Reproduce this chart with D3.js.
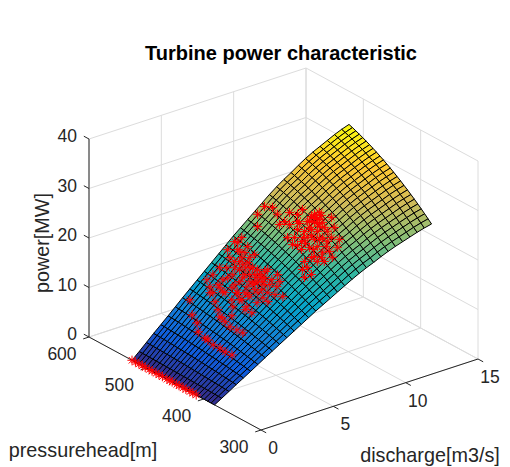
<!DOCTYPE html>
<html><head><meta charset="utf-8">
<script src="https://cdn.jsdelivr.net/npm/d3@7"></script>
<style>html,body{margin:0;padding:0;background:#fff}svg{display:block}text{font-family:"Liberation Sans",Arial,sans-serif;fill:#262626}</style>
</head><body><svg id="c" width="510" height="467"></svg>
<script>
const dischargeTicks=[0,5,10,15], headTicks=[300,400,500,600], powerTicks=[0,10,20,30,40];
const dischargeGrid=[0,0.5,1,1.5,2,2.5,3,3.5,4,4.5,5,5.5,6,6.5,7,7.5,8,8.5,9,9.5,10,10.5,11,11.5,12,12.5,13,13.5,14,14.5,15];
const powerAtTopHead=[0,1.3,2.65,4,5.3,6.6,7.95,9.3,10.6,11.9,13.2,14.5,15.8,17.1,18.4,19.6,20.8,22,23.2,24.4,25.5,26.5,27.4,28.4,29.3,30.1,30.8,31.5,32.2,32.8,33.3];
const headGrid=[525,519,513,507,501,495,489,483,477,471,465,459,453,447,441,435,429,423,417,411,405,399,393,387,381];
const headRatio=[1,.992,.9835,.9745,.965,.955,.9445,.9334,.9218,.9097,.8971,.884,.8704,.8563,.8416,.8264,.8107,.7945,.7778,.7606,.7429,.7246,.7058,.6865,.6668];
const parulaStops=['#352a87','#0f5cdd','#1481d6','#06a4ca','#2eb7a4','#87bf77','#d1bb59','#fec832','#f9fb0e'];
// measured points along the zero-power line
const idleHead=[525,519,513,507,502,495,490,483,478,472,464,459,455,447,443,436,431,424,419,413];
// measured points, mid range
const midDischarge=[3.48,2.94,2.79,2.46,2.46,2.48,2.47,2.59,2.62,2.74,4.51,4.32,4.1,3.91,3.86,3.83,3.96,4.05,4.77,5.39,5.28,5.02,5.53,5.21,3.88,4.36,7.53,7.96,7.31,7.8,6.69,6.7,7.13,7.42,5.9,5.36,5.52,6.09,6.55,6.53,7,6.89,7.08,7.14,6.67,6.85,6.41,6.11,6.06,5.52,5.06,4.62,4.76,4.94,7.32,7.73,7.21,7.01,6.63,6.26,5.8,5.31,5.82,6.26,6.91,6.85,6.43,6.53,5.79,5.49,7.11,7.14,6.87,7.45,6.45,6.16,5.08,7.3,6.94,7.72,5.75,6.33,7.21,7.58,7.03,6.27,6.71,7.03,6.56,5.82,6.81,6.24,6.88,5.78,5.13,5.09,5.02,7.6,6.85,7.39,7.53];
const midHead=[511.8,494.3,481.9,471.6,459.6,455.1,445.7,436.9,428.6,419.7,502.7,489.2,478.4,466.7,460.1,450.7,441.9,433.8,469.2,469.3,457.8,493.2,479.9,447.4,469.4,460.7,535.9,534.4,525.1,520,523.2,514.9,513.4,506.8,520.9,519.2,505.8,502.8,502.4,493,496.3,484.9,480.8,473.6,474,466.2,476,478.8,489.8,490.1,490.5,500.3,509,518.9,465.8,466.1,454.3,438.9,455.3,463.5,465.8,470.9,453.8,445.9,471,480.1,481.6,463.4,474.1,480.7,493.9,503.2,505.2,516.1,508.6,515.1,499.9,521.3,533.2,505.9,490.7,491.6,487.7,479.5,462.1,469.2,488.9,476,476.5,469.6,447.5,454.2,510.8,503.8,504.6,456.3,477.5,532.4,499.6,479.9,457.1];
const midPower=[9.69,8.27,7.57,6.72,6.25,6.1,5.71,5.52,5.23,5.04,10.71,9.92,9.19,8.48,8.14,7.74,7.55,7.36,9.73,10.56,9.96,11.02,11.17,9.46,8.54,8.83,16.08,16.59,15.35,15.81,14.44,14.13,14.64,14.77,13.3,12.51,12.18,12.84,13.44,13.04,13.8,13.2,13.29,13.08,12.47,12.4,12.2,11.9,12.27,11.56,10.96,10.76,11.29,11.92,13,13.58,12.4,11.53,11.67,11.5,10.98,10.52,10.52,10.8,12.66,12.95,12.44,11.86,11.29,11.15,13.85,14.26,13.97,15.18,13.55,13.42,11.36,15.19,15.18,15.14,11.9,12.71,13.74,13.91,12.48,11.74,13.12,13.03,12.42,11.15,11.6,11.1,14.21,12.46,11.62,9.64,10.39,16.03,13.73,13.66,12.94];
// measured points, high range
const highDischarge=[8.17,8.72,7.69,9.06,7.69,9.2,7.91,8.47,8.81,9.77,9.43,9.98,9.64,9.15,10.19,10.81,7.91,8.47,8.95,9.43,9.84,8.26,8.12,8.74,9.15,9.64,10.19,10.81,11.22,8.74,9.29,9.84,10.46,9.64,10.19,10.32,10.87,8.95,8.81,9.43,8.95,9.98,10.53,7.78,9.64,9.29,9.98,9.64,10.12,9.84,9.29,10.32,11.01,8.6,8.88,9.43,9.98,10.53,8.47,9.02,9.57,10.12,10.67,11.36,9.43,9.84,9.15,8.47,7.57];
const highHead=[500,500,500,500,500,500,450,450,450,450,450,450,450,450,450,450,450,450,450,450,450,450,450,450,450,450,450,450,450,450,450,450,450,450,450,450,450,450,450,450,450,450,450,450,450,450,450,450,450,450,450,450,450,450,450,450,450,450,450,450,450,450,450,450,450,450,450,450,450];
const highPower=[24.8,24.1,23.7,22.4,21.2,20.2,26.97,26.04,26.73,24.2,24.73,23.62,23.33,23.98,22.81,23.23,24.55,23.01,22.16,22.1,21.31,21.6,20.3,20.32,20.75,19.9,19.78,19.19,16.79,18.71,18.6,18.28,17.7,16.46,16.75,14.79,15.09,16.1,14.61,13.01,12.87,22.2,20.67,22.04,24.95,23.86,25.03,24.14,24.28,22.93,22.65,21.66,21.01,24.1,21.01,20.89,19.58,18.65,19.78,19.68,17.94,15.8,16.48,18.26,16.44,15.25,14.69,24.63,25.48];

const svg=d3.select('#c');
const qX=d3.scaleLinear().domain([0,15]).range([0,217]), qY=d3.scaleLinear().domain([0,15]).range([0,-71]);
const hX=d3.scaleLinear().domain([300,600]).range([0,-172]), hY=d3.scaleLinear().domain([300,600]).range([0,-93]);
const pY=d3.scaleLinear().domain([0,40]).range([0,-198]);
const ox=261, oy=430;
const P=(q,h,p)=>[ox+qX(q)+hX(h), oy+qY(q)+hY(h)+pY(p)];
const line=d3.line();
const color=d3.scaleLinear().domain(parulaStops.map((c,i)=>i/(parulaStops.length-1)*33.3)).range(parulaStops).interpolate(d3.interpolateRgb);

const gridG=svg.append('g').attr('fill','none').attr('stroke','#dcdcdc').attr('stroke-width',1);
const seg=(g,a,b)=>g.append('path').attr('d',line([a,b]));
dischargeTicks.forEach(q=>{seg(gridG,P(q,300,0),P(q,600,0));seg(gridG,P(q,600,0),P(q,600,40));});
headTicks.forEach(h=>{seg(gridG,P(0,h,0),P(15,h,0));seg(gridG,P(15,h,0),P(15,h,40));});
powerTicks.forEach(p=>{seg(gridG,P(0,600,p),P(15,600,p));seg(gridG,P(15,600,p),P(15,300,p));});

const axG=svg.append('g').attr('fill','none').attr('stroke','#262626').attr('stroke-width',1);
seg(axG,P(0,300,0),P(15,300,0));seg(axG,P(0,300,0),P(0,600,0));seg(axG,P(0,600,0),P(0,600,40));
dischargeTicks.forEach(q=>seg(axG,P(q,300,0),P(q,291,0)));
headTicks.forEach(h=>seg(axG,P(0,h,0),P(-0.4,h,0)));
powerTicks.forEach(p=>seg(axG,P(0,600,p),P(0,609,p)));

const T=(x,y,s,size,anchor)=>svg.append('text').attr('x',x).attr('y',y).attr('font-size',size).attr('text-anchor',anchor||'middle').attr('dominant-baseline','central').text(s);
dischargeTicks.forEach(q=>{const [a,b]=P(q,300,0);T(a+12,b+18,q,17.5);});
headTicks.forEach(h=>{const [a,b]=P(0,h,0);T(a-27,b+17,h,17.5);});
powerTicks.forEach(p=>{const [a,b]=P(0,600,p);T(a-12,b-3,p,17.5,'end');});
T(281,53,'Turbine power characteristic',20).attr('font-weight','bold').style('fill','#000');
T(83,450,'pressurehead[m]',19.8);
T(430,455,'discharge[m3/s]',19.8);
T(42,243,'power[MW]',19.8).attr('transform','rotate(-90 42 243)');

const cells=[];
for(let i=0;i<dischargeGrid.length-1;i++)for(let j=0;j<headGrid.length-1;j++){
  const z=(a,b)=>powerAtTopHead[a]*headRatio[b];
  cells.push({pts:[[i,j],[i+1,j],[i+1,j+1],[i,j+1]].map(([a,b])=>P(dischargeGrid[a],headGrid[b],z(a,b))),v:(z(i,j)+z(i+1,j)+z(i+1,j+1)+z(i,j+1))/4});
}
svg.append('g').selectAll('path').data(cells).join('path')
 .attr('d',d=>line(d.pts)+'Z').attr('fill',d=>color(d.v)).attr('stroke','#000').attr('stroke-width',1);

const starPath=(()=>{const r=4.6,p=d3.path();[0,45,90,135].forEach(a=>{const t=a*Math.PI/180;p.moveTo(-r*Math.cos(t),-r*Math.sin(t));p.lineTo(r*Math.cos(t),r*Math.sin(t));});return p.toString();})();
const stars=[...idleHead.map(h=>P(0,h,0)),...midDischarge.map((q,i)=>P(q,midHead[i],midPower[i])),...highDischarge.map((q,i)=>P(q,highHead[i],highPower[i]))];
svg.append('g').selectAll('path').data(stars).join('path')
 .attr('d',starPath).attr('transform',d=>`translate(${d[0]},${d[1]})`).attr('fill','none').attr('stroke','#f00').attr('stroke-width',1);
</script></body></html>
